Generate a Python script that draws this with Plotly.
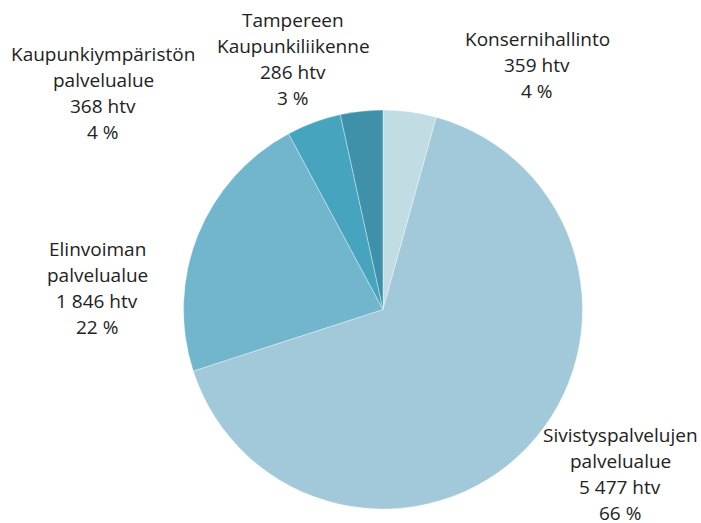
import plotly.graph_objects as go

# Data
names = [
    ["Konsernihallinto"],
    ["Sivistyspalvelujen", "palvelualue"],
    ["Elinvoiman", "palvelualue"],
    ["Kaupunkiympäristön", "palvelualue"],
    ["Tampereen", "Kaupunkiliikenne"],
]
values = [359, 5477, 1846, 368, 286]
colors = ["#c2dce4", "#a1c9da", "#71b6cc", "#47a4bf", "#3f91aa"]

# label block centres in pixels (layout)
label_px = [(537, 65), (620, 474), (97, 288), (103, 93), (293, 59)]

W, H = 701, 523
L, R, T, B = 183, 118, 110, 14
pw, ph = W - L - R, H - T - B

total = sum(values)

def fmt(v):
    return f"{v:,}".replace(",", " ")

fig = go.Figure(go.Pie(
    labels=[" ".join(n) for n in names],
    values=values,
    sort=False,
    direction="clockwise",
    rotation=0,
    marker=dict(colors=colors, line=dict(color="rgba(255,255,255,0.6)", width=0.6)),
    textinfo="none",
    hoverinfo="label+value+percent",
    showlegend=False,
))

annotations = []
spacing = 26
for n, v, (cx, cy) in zip(names, values, label_px):
    lines = n + [f"{fmt(v)} htv", f"{round(v / total * 100)} %"]
    k = len(lines)
    for i, line in enumerate(lines):
        py = cy + (i - (k - 1) / 2) * spacing
        annotations.append(dict(
            text=line, showarrow=False,
            xref="paper", yref="paper",
            x=(cx - L) / pw, y=(H - B - py) / ph,
            xanchor="center", yanchor="middle",
            font=dict(family="Open Sans", size=19, color="#222222"),
        ))

fig.update_layout(
    width=W, height=H,
    margin=dict(l=L, r=R, t=T, b=B),
    paper_bgcolor="white", plot_bgcolor="white",
    annotations=annotations,
)
fig.write_html(
    "out.html",
    config={"displayModeBar": False},
    post_script="document.body.style.margin='0';document.body.style.overflow='hidden';",
)
